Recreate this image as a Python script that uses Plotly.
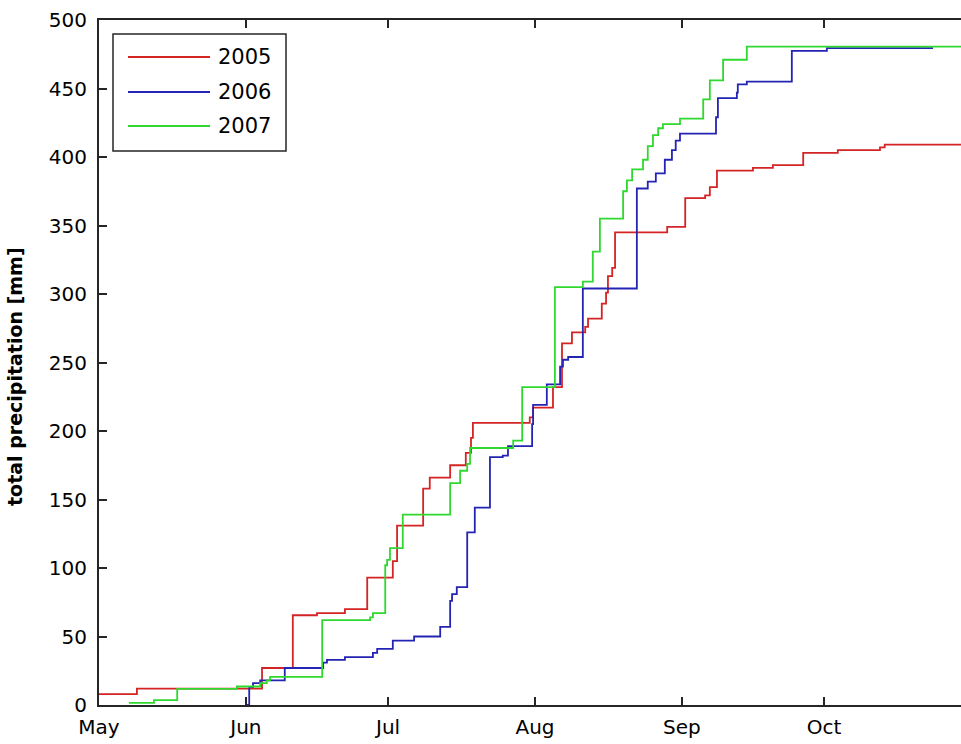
import pandas as pd
import plotly.graph_objects as go

# Season axis: all years share a common May-October calendar
SEASON_START = "2001-05-01"
X_END_DAYS = 181.9  # right edge of the axes, days after 1 May

month_ticks = ["May", "Jun", "Jul", "Aug", "Sep", "Oct"]

years = ["2005", "2006", "2007"]
colors = ["#d42424", "#2424b4", "#2fd82f"]

# Cumulative precipitation, step series (days after 1 May, mm)
days_2005 = [0.0, 8.0, 34.4, 40.9, 46.0, 51.9, 56.6, 62.0, 62.9, 68.4, 69.8, 74.1,
             77.4, 78.5, 78.9, 90.9, 91.6, 95.8, 97.7, 99.8, 102.6, 103.2, 106.1,
             107.0, 107.4, 108.3, 108.9, 119.9, 123.7, 127.9, 128.9, 130.4, 138.0,
             142.2, 148.6, 155.9, 164.8, 165.8, 184.0]
mm_2005 = [8, 12, 27, 65.5, 67, 70, 93, 105, 131, 158, 166, 175,
           184, 195, 206, 210, 217, 232, 264, 272, 276, 282, 293,
           301, 313, 319, 345, 349, 370, 372, 378, 390, 392,
           394, 403, 405, 407, 409, 409]

days_2006 = [31.0, 31.7, 32.5, 34.0, 39.2, 47.3, 48.1, 51.9, 57.8, 58.7, 62.0, 66.5,
             72.0, 74.1, 74.5, 75.5, 77.7, 79.3, 82.5, 85.2, 86.3, 91.4, 91.6,
             94.5, 97.3, 97.9, 99.0, 102.1, 113.5, 115.8, 117.5, 119.4, 120.9,
             121.7, 122.6, 130.2, 130.6, 134.6, 134.8, 136.7, 146.2, 153.6, 176.0]
mm_2006 = [0, 13, 16, 18, 27, 31, 33, 35, 38, 41, 47, 50,
           57, 76, 81, 86, 126, 144, 181, 182, 189, 205, 219,
           234, 247, 252, 254, 304, 377, 382, 388, 398, 405,
           412, 417, 429, 443, 447, 453, 455, 477.5, 479.5, 479.5]

days_2007 = [6.3, 11.6, 16.5, 29.1, 34.0, 35.4, 36.1, 47.1, 57.2, 57.8, 60.4, 60.8,
             61.4, 64.1, 74.1, 76.2, 77.7, 78.3, 87.4, 89.3, 96.2, 102.1, 104.2,
             105.7, 110.6, 111.4, 112.5, 114.8, 115.8, 116.9, 118.0, 119.0, 122.6,
             127.5, 128.9, 131.7, 136.7, 184.0]
mm_2007 = [1.5, 3.6, 11.7, 13.5, 16, 18, 20.5, 62, 64, 67, 102, 106,
           114.5, 139, 162, 171, 176, 187.6, 193, 232, 305, 309, 331,
           355, 375, 383, 391, 398, 408, 416, 421, 424, 428,
           442, 456, 471, 480.5, 480.5]

series_days = [days_2005, days_2006, days_2007]
series_mm = [mm_2005, mm_2006, mm_2007]

start = pd.Timestamp(SEASON_START)


def to_dates(days):
    return start + pd.to_timedelta(days, unit="D")


FONT = "DejaVu Sans"
AXIS_COLOR = "#262626"

fig = go.Figure()
for name, color, d, v in zip(years, colors, series_days, series_mm):
    fig.add_trace(go.Scatter(
        x=to_dates(d), y=v, name=name, mode="lines",
        line=dict(color=color, width=1.8, shape="hv"),
        showlegend=False,
    ))

# Boxed legend in the upper-left corner: line sample + label per year
W_PX, H_PX = 862.0, 685.0


def px_x(px):
    return (px - 99) / W_PX


def px_y(py):
    return (705 - py) / H_PX


shapes = [dict(type="rect", xref="paper", yref="paper",
               x0=px_x(113), x1=px_x(286), y0=px_y(151), y1=px_y(34),
               line=dict(color=AXIS_COLOR, width=1.5), fillcolor="white", layer="above")]
annotations = []
for i, (name, color) in enumerate(zip(years, colors)):
    row = [57, 92, 126][i]
    shapes.append(dict(type="line", xref="paper", yref="paper",
                       x0=px_x(128), x1=px_x(210), y0=px_y(row), y1=px_y(row),
                       line=dict(color=color, width=1.8), layer="above"))
    annotations.append(dict(text=name, xref="paper", yref="paper",
                            x=px_x(216), y=px_y(row), xanchor="left", yanchor="middle",
                            showarrow=False, font=dict(family=FONT, size=21, color="black")))

# Rotated y-axis caption
annotations.append(dict(text="<b>total precipitation [mm]</b>", xref="paper", yref="paper",
                        x=px_x(15), y=px_y(377), xanchor="center", yanchor="middle",
                        textangle=-90, showarrow=False,
                        font=dict(family=FONT, size=19, color="black")))

fig.update_layout(
    width=961, height=744,
    margin=dict(l=99, r=0, t=20, b=39),
    paper_bgcolor="white", plot_bgcolor="white",
    shapes=shapes, annotations=annotations,
    font=dict(family=FONT, size=20, color="black"),
)
fig.update_xaxes(
    type="date",
    range=[start, to_dates(X_END_DAYS)],
    tickmode="array",
    tickvals=pd.date_range(start, periods=len(month_ticks), freq="MS"),
    ticktext=month_ticks,
    ticks="inside", ticklen=8, tickwidth=1.5, tickcolor=AXIS_COLOR,
    showline=True, linecolor=AXIS_COLOR, linewidth=2, mirror="ticks",
    showgrid=False, zeroline=False,
    ticklabelstandoff=3,
    tickfont=dict(family=FONT, size=20, color="black"),
)
fig.update_yaxes(
    range=[0, 500], dtick=50, tick0=0,
    ticks="inside", ticklen=8, tickwidth=1.5, tickcolor=AXIS_COLOR,
    showline=True, linecolor=AXIS_COLOR, linewidth=2, mirror=False,
    showgrid=False, zeroline=False,
    ticklabelstandoff=6,
    tickfont=dict(family=FONT, size=20, color="black"),
)
# Right-hand tick marks only (the right frame edge falls outside the view)
fig.update_layout(yaxis2=dict(
    overlaying="y", side="right", range=[0, 500], dtick=50, tick0=0,
    ticks="inside", ticklen=8, tickwidth=1.5, tickcolor=AXIS_COLOR,
    showticklabels=False, showline=False, showgrid=False, zeroline=False,
))

fig.write_html("out.html")
